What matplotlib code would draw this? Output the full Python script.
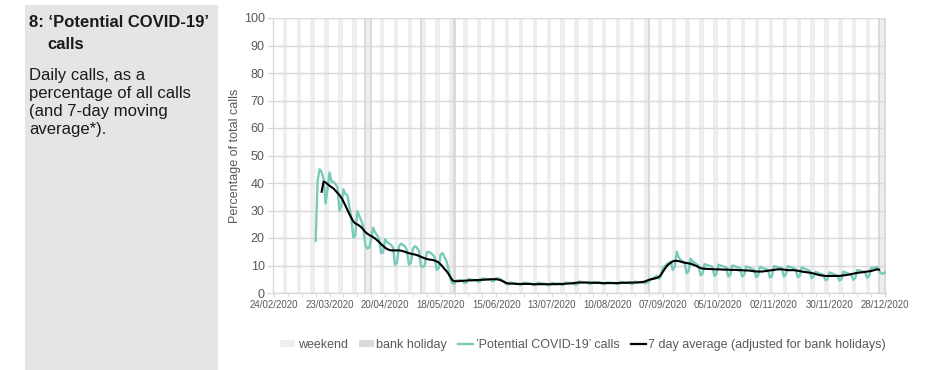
import numpy as np
import pandas as pd
import matplotlib
matplotlib.use('Agg')
import matplotlib.pyplot as plt
from matplotlib.patches import Rectangle, Patch
from matplotlib.lines import Line2D

plt.rcParams['font.family'] = ['Liberation Sans', 'DejaVu Sans']

# 数据：每日“Potential COVID-19”来电占比（%），从 16/03/2020 开始，每行一周（周一到周日）
calls_start = '2020-03-16'
calls_pct = [
    19.0, 41.0, 45.0, 44.0, 41.5, 32.5, 38.0,
    43.8, 40.5, 40.5, 39.5, 38.5, 30.0, 31.5,
    37.7, 36.0, 35.5, 31.5, 27.0, 20.2, 21.0,
    29.8, 28.0, 26.5, 24.0, 17.5, 16.2, 16.5,
    19.5, 23.7, 22.0, 21.0, 19.5, 14.5, 14.8,
    19.5, 18.5, 18.0, 17.5, 16.5, 10.3, 11.0,
    17.0, 18.0, 17.5, 17.0, 15.5, 10.3, 11.0,
    16.0, 17.0, 16.5, 15.5, 10.0, 9.5, 10.0,
    14.8, 15.0, 14.5, 14.0, 13.0, 8.4, 9.0,
    14.0, 14.5, 13.0, 11.5, 8.5, 5.0, 3.5,
    3.5, 4.5, 4.6, 4.6, 4.5, 3.6, 3.8,
    5.0, 5.0, 4.8, 4.6, 4.5, 4.0, 4.2,
    5.2, 5.3, 5.1, 5.0, 4.9, 4.3, 4.5,
    5.4, 5.3, 5.1, 4.6, 4.2, 3.3, 3.1,
    3.8, 3.7, 3.5, 3.4, 3.3, 2.9, 3.1,
    3.8, 3.7, 3.5, 3.4, 3.3, 2.9, 3.1,
    3.7, 3.6, 3.5, 3.4, 3.3, 2.8, 3.0,
    3.6, 3.6, 3.5, 3.4, 3.3, 2.8, 3.0,
    3.8, 3.7, 3.6, 3.5, 3.4, 3.0, 3.2,
    4.2, 4.0, 3.9, 3.8, 3.7, 3.3, 3.5,
    4.0, 3.9, 3.8, 3.8, 3.7, 3.2, 3.4,
    3.9, 3.8, 3.7, 3.7, 3.6, 3.2, 3.3,
    4.0, 3.9, 3.8, 3.8, 3.7, 3.3, 3.4,
    4.1, 4.0, 3.9, 4.0, 4.0, 3.6, 3.8,
    4.0, 5.0, 5.4, 5.8, 6.2, 5.2, 6.0,
    9.0, 9.8, 10.5, 11.0, 11.4, 8.4, 9.5,
    15.0, 13.0, 12.0, 11.5, 11.0, 7.2, 8.0,
    12.5, 11.5, 11.0, 10.5, 10.0, 6.5, 7.0,
    10.5, 10.2, 10.0, 9.8, 9.5, 6.2, 6.8,
    10.3, 10.0, 9.8, 9.5, 9.2, 6.0, 6.5,
    10.0, 9.8, 9.5, 9.3, 9.0, 6.0, 6.5,
    9.7, 9.4, 9.1, 8.8, 8.5, 5.8, 6.3,
    9.5, 9.2, 8.9, 8.7, 8.4, 5.6, 6.1,
    9.8, 9.6, 9.4, 9.2, 9.0, 6.0, 6.7,
    9.8, 9.5, 9.2, 9.0, 8.6, 5.7, 6.2,
    9.3, 9.0, 8.7, 8.4, 8.0, 5.4, 6.0,
    7.7, 7.4, 7.1, 6.8, 6.5, 4.6, 5.1,
    7.5, 7.2, 6.9, 6.6, 6.3, 4.5, 5.0,
    7.8, 7.5, 7.2, 6.9, 6.6, 4.8, 5.4,
    8.4, 8.2, 8.0, 7.7, 7.4, 5.5, 6.2,
    9.2, 9.0, 9.3, 9.5, 8.0, 7.2, 7.0,
    7.5,
]

# 7天平均（按银行假日调整），从 19/03/2020 开始
avg_start = '2020-03-19'
avg_pct = [
    36.8, 40.5, 40.2, 39.6,
    39.0, 38.5, 38.0, 37.2, 36.4, 35.6, 34.6,
    33.3, 31.8, 30.2, 28.7, 27.3, 26.0, 25.3,
    24.9, 24.5, 23.9, 23.1, 22.2, 21.6, 21.1,
    20.7, 20.3, 19.8, 19.2, 18.5, 17.8, 17.1,
    16.5, 16.0, 15.7, 15.5, 15.5, 15.5, 15.5,
    15.5, 15.4, 15.2, 15.0, 14.7, 14.5, 14.3,
    14.1, 14.0, 13.8, 13.5, 13.2, 12.9, 12.6,
    12.4, 12.2, 12.1, 12.0, 11.8, 11.5, 11.1,
    10.4, 9.6, 8.7, 7.9, 6.9, 5.7, 4.6,
    4.3, 4.3, 4.3, 4.4, 4.4, 4.5, 4.5,
    4.6, 4.6, 4.6, 4.7, 4.7, 4.7, 4.8,
    4.8, 4.8, 4.9, 4.9, 5.0, 5.0, 5.0,
    5.0, 4.9, 4.7, 4.4, 4.0, 3.7, 3.5,
    3.4, 3.4, 3.4, 3.3, 3.3, 3.3, 3.3,
    3.3, 3.3, 3.3, 3.3, 3.2, 3.2, 3.2,
    3.2, 3.2, 3.2, 3.2, 3.2, 3.2, 3.2,
    3.2, 3.2, 3.2, 3.2, 3.3, 3.3, 3.3,
    3.4, 3.4, 3.5, 3.5, 3.6, 3.7, 3.8,
    3.8, 3.8, 3.8, 3.8, 3.8, 3.8, 3.7,
    3.7, 3.7, 3.7, 3.7, 3.6, 3.6, 3.6,
    3.6, 3.6, 3.6, 3.6, 3.6, 3.6, 3.7,
    3.7, 3.7, 3.7, 3.7, 3.8, 3.8, 3.8,
    3.8, 3.8, 3.9, 3.9, 4.0, 4.2, 4.5,
    4.8, 5.0, 5.1, 5.3, 5.5, 5.8, 6.6,
    7.7, 8.8, 9.8, 10.5, 11.0, 11.5, 11.7,
    11.7, 11.6, 11.4, 11.2, 11.0, 10.9, 10.8,
    10.6, 10.4, 10.1, 9.8, 9.4, 9.1, 8.9,
    8.8, 8.8, 8.7, 8.7, 8.7, 8.6, 8.6,
    8.6, 8.6, 8.5, 8.5, 8.5, 8.5, 8.4,
    8.4, 8.4, 8.4, 8.3, 8.3, 8.3, 8.2,
    8.2, 8.2, 8.1, 8.0, 7.9, 7.8, 7.8,
    7.8, 7.8, 7.9, 8.0, 8.1, 8.2, 8.3,
    8.4, 8.5, 8.6, 8.6, 8.6, 8.5, 8.4,
    8.3, 8.3, 8.3, 8.3, 8.2, 8.1, 8.0,
    7.8, 7.7, 7.6, 7.5, 7.4, 7.3, 7.1,
    6.9, 6.7, 6.5, 6.4, 6.3, 6.2, 6.2,
    6.2, 6.2, 6.2, 6.2, 6.2, 6.2, 6.3,
    6.4, 6.5, 6.6, 6.7, 6.9, 7.0, 7.2,
    7.3, 7.4, 7.5, 7.6, 7.7, 7.8, 7.9,
    8.0, 8.2, 8.4, 8.6, 8.5,
]

bank_holidays = ['2020-04-10', '2020-04-13', '2020-05-08', '2020-05-25',
                 '2020-08-31', '2020-12-25', '2020-12-28']
axis_start = '2020-02-24'
axis_end = '2020-12-28'
tick_labels = ['24/02/2020', '23/03/2020', '20/04/2020', '18/05/2020', '15/06/2020',
               '13/07/2020', '10/08/2020', '07/09/2020', '05/10/2020', '02/11/2020',
               '30/11/2020', '28/12/2020']

teal = '#78cabb'
grey_txt = '#595959'
wk_col = '#eeeeee'
bh_col = '#dadada'

calls_dates = pd.date_range(calls_start, periods=len(calls_pct), freq='D')
avg_dates = pd.date_range(avg_start, periods=len(avg_pct), freq='D')
all_days = pd.date_range(axis_start, axis_end, freq='D')
weekends = all_days[all_days.dayofweek >= 5]
bh = pd.to_datetime(bank_holidays)

fig = plt.figure(figsize=(9.32, 3.70), dpi=100)

# 左侧灰色说明框
fig.patches.append(Rectangle((25 / 932, 0), 193 / 932, 1 - 5 / 370,
                             transform=fig.transFigure, facecolor='#e5e5e5',
                             edgecolor='none', zorder=0))
fig.text(29 / 932, 1 - 27 / 370, '8: \u2018Potential COVID-19\u2019', fontsize=12,
         fontweight='bold', color='#1a1a1a', va='baseline')
fig.text(47 / 932, 1 - 49 / 370, 'calls', fontsize=12, fontweight='bold',
         color='#1a1a1a', va='baseline')
body = ['Daily calls, as a', 'percentage of all calls', '(and 7-day moving', 'average*).']
for i, line in enumerate(body):
    fig.text(29 / 932, 1 - (80 + 18 * i) / 370, line, fontsize=12,
             color='#1a1a1a', va='baseline')

ax = fig.add_axes([273 / 932, 1 - 293 / 370, 613 / 932, 275 / 370])

ax.bar(weekends, 100, width=1.2, color=wk_col, zorder=0)
ax.bar(bh, 100, width=1.2, color=bh_col, zorder=0.2)
ax.yaxis.grid(True, color='#d9d9d9', linewidth=1.0, zorder=0.5)
ax.set_axisbelow(True)

ax.plot(calls_dates, calls_pct, color=teal, linewidth=1.7, zorder=3)
ax.plot(avg_dates, avg_pct, color='black', linewidth=1.5, zorder=4)

ax.set_ylim(0, 100)
ax.set_yticks(np.arange(0, 101, 10))
x0 = pd.Timestamp(axis_start) - pd.Timedelta(hours=12)
x1 = pd.Timestamp(axis_end) + pd.Timedelta(hours=12)
ax.set_xlim(x0, x1)
major = pd.date_range(axis_start, axis_end, freq='28D')
ax.set_xticks(major)
ax.set_xticklabels(tick_labels)
ax.set_xticks(pd.date_range(axis_start, axis_end, freq='7D'), minor=True)

for s in ['top', 'right']:
    ax.spines[s].set_visible(False)
for s in ['left', 'bottom']:
    ax.spines[s].set_color('#d9d9d9')
    ax.spines[s].set_linewidth(1.0)

ax.tick_params(axis='y', labelsize=9, colors=grey_txt, length=4, color='#d9d9d9', pad=2)
ax.tick_params(axis='x', which='both', labelsize=7, labelcolor=grey_txt, length=3,
               color='#d9d9d9', pad=2)
ax.set_ylabel('Percentage of total calls', fontsize=9, color=grey_txt, labelpad=2)

handles = [Patch(facecolor=wk_col, edgecolor='none'),
           Patch(facecolor=bh_col, edgecolor='none'),
           Line2D([], [], color=teal, linewidth=1.7),
           Line2D([], [], color='black', linewidth=1.6)]
labels = ['weekend', 'bank holiday', '\u2019Potential COVID-19\u2019 calls',
          '7 day average (adjusted for bank holidays)']
fig.legend(handles, labels, loc='center', bbox_to_anchor=(583 / 932, 1 - 345 / 370),
           ncol=4, frameon=False, fontsize=9, labelcolor=grey_txt,
           handlelength=1.2, handleheight=0.5, handletextpad=0.2, columnspacing=0.9)

fig.savefig('out.png', dpi=100)
